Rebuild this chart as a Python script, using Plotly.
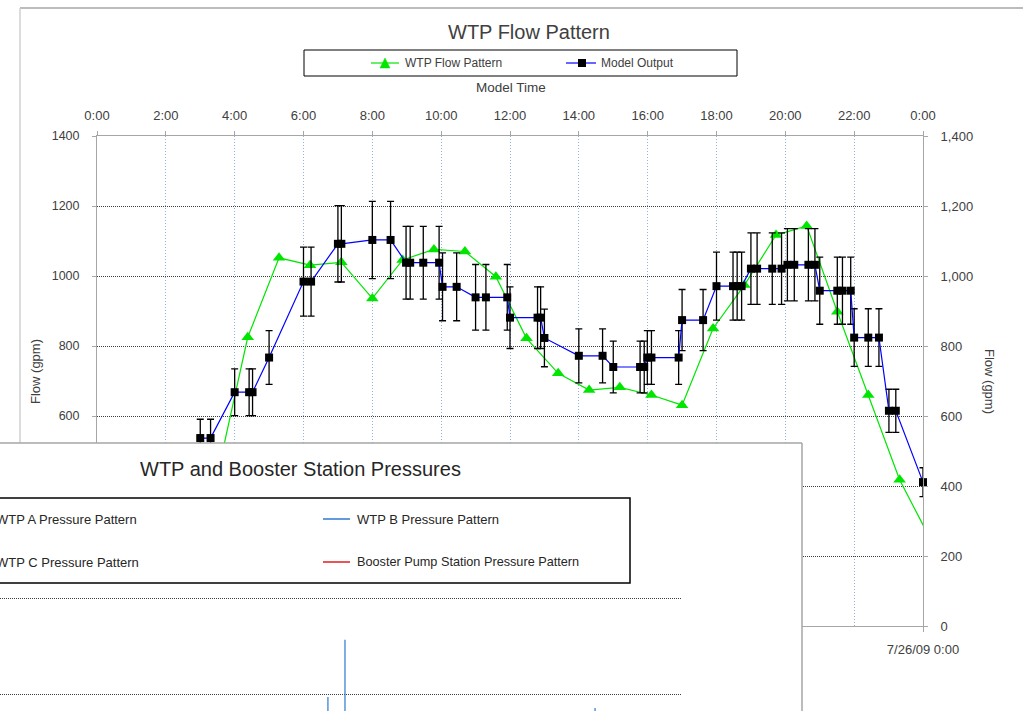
import plotly.graph_objects as go

W, H = 1023, 711

# ---- WTP flow chart data (time in hours after midnight, flow in gpm) ----
model_time_hr = [3.0, 3.3, 4.0, 4.42, 4.52, 5.0, 6.0, 6.22, 7.0, 7.1, 8.0, 8.53,
                 8.98, 9.1, 9.48, 9.94, 10.04, 10.45, 11.0, 11.3, 11.92, 12.0,
                 12.8, 12.89, 13.0, 14.0, 14.69, 15.0, 15.78, 15.9, 15.99, 16.11,
                 16.9, 17.0, 17.61, 18.0, 18.48, 18.6, 18.73, 19.0, 19.18, 19.62,
                 19.89, 20.06, 20.26, 20.67, 20.86, 21.0, 21.51, 21.66, 21.9, 22.0,
                 22.41, 22.72, 23.01, 23.21, 24.0]
model_flow_gpm = [537, 537, 668, 668, 668, 767, 984, 984, 1092, 1092, 1103, 1103,
                  1038, 1038, 1038, 1038, 969, 969, 939, 939, 939, 881,
                  881, 881, 823, 772, 772, 740, 740, 740, 767, 767,
                  767, 874, 874, 971, 971, 971, 971, 1021, 1021, 1021,
                  1021, 1032, 1032, 1032, 1032, 958, 958, 958, 958, 824,
                  824, 824, 615, 615, 411]
model_error_pct = 10

pattern_time_hr = [3.48, 4.38, 5.29, 6.19, 7.1, 8.0, 8.88, 9.79, 10.69, 11.59,
                   12.48, 13.4, 14.3, 15.19, 16.11, 17.0, 17.9, 18.81, 19.73,
                   20.62, 21.51, 22.41, 23.32, 24.22]
pattern_flow_gpm = [424, 825, 1052, 1031, 1039, 936, 1046, 1076, 1070, 998,
                    822, 722, 674, 682, 660, 631, 850, 974, 1117,
                    1143, 898, 660, 418, 247]

hour_ticks = list(range(0, 25, 2))
hour_tick_labels = [f"{h % 24}:00" for h in hour_ticks]
date_ticks = [0, 24]
date_tick_labels = ["", "7/26/09 0:00"]
flow_ticks = list(range(0, 1401, 200))
# left-hand labels below 600 sit behind the pressure chart panel
flow_left_labels = ["" if v < 600 else str(v) for v in flow_ticks]

# ---- Pressure chart data ----
pressure_grid_psi = [60, 80]
wtp_b_spike_hr = [11.54, 12.14, 20.94]
wtp_b_spike_psi = [59.4, 71.3, 57.1]
wtp_b_base_psi = 50

FONT = "Liberation Sans, Arial, sans-serif"
TXT = "#404040"
DARK = "#262626"
AXIS_GRAY = "#a6a6a6"
H_GRID = "#3c3c3c"
V_GRID = "#8fb2e2"
GREEN = "#00e600"
BLUE = "#0000ff"
WTP_B_BLUE = "#2e78d2"
BPS_RED = "#e41a1c"


def px(x):
    return x / W


def py(y):
    return 1 - y / H


fig = go.Figure()

fig.add_trace(go.Scatter(
    x=pattern_time_hr, y=pattern_flow_gpm, name="WTP Flow Pattern",
    mode="lines+markers", line=dict(color=GREEN, width=1.2),
    marker=dict(symbol="triangle-up", size=11, color=GREEN),
    xaxis="x", yaxis="y", hoverinfo="skip"))

fig.add_trace(go.Scatter(
    x=model_time_hr, y=model_flow_gpm, name="Model Output",
    mode="lines+markers", line=dict(color=BLUE, width=1.2),
    marker=dict(symbol="square", size=8, color="black"),
    error_y=dict(type="percent", value=model_error_pct, color="black",
                 thickness=1.3, width=3.5),
    cliponaxis=False, xaxis="x", yaxis="y", hoverinfo="skip"))

# secondary axes (date axis at the bottom, comma-formatted flow on the right)
fig.add_trace(go.Scatter(x=[None], y=[None], xaxis="x2", yaxis="y2",
                         showlegend=False, hoverinfo="skip"))

# pressure chart panel and plot area
fig.add_trace(go.Scatter(x=[None], y=[None], xaxis="x3", yaxis="y3",
                         showlegend=False, hoverinfo="skip"))

spike_x, spike_y = [], []
for t, p in zip(wtp_b_spike_hr, wtp_b_spike_psi):
    spike_x += [t, t, None]
    spike_y += [wtp_b_base_psi, p, None]
fig.add_trace(go.Scatter(
    x=spike_x, y=spike_y, name="WTP B Pressure Pattern", mode="lines",
    line=dict(color=WTP_B_BLUE, width=1.2), xaxis="x4", yaxis="y4",
    hoverinfo="skip"))

plot_x = [px(97), px(923)]
plot_y = [py(626), py(136)]

fig.update_layout(
    width=W, height=H,
    margin=dict(l=0, r=0, t=0, b=0, pad=0, autoexpand=False),
    paper_bgcolor="white", plot_bgcolor="white", showlegend=False,
    font=dict(family=FONT, size=13, color=TXT),
    xaxis=dict(domain=plot_x, range=[0, 24], side="top", anchor="y",
               tickmode="array", tickvals=hour_ticks, ticktext=hour_tick_labels,
               showgrid=True, gridcolor=V_GRID, griddash="1px,2px", gridwidth=1,
               showline=True, linecolor=AXIS_GRAY, linewidth=1,
               ticks="outside", ticklen=4, tickcolor=AXIS_GRAY,
               ticklabelstandoff=6, zeroline=False, automargin=False,
               tickfont=dict(family=FONT, size=13, color=TXT)),
    yaxis=dict(domain=plot_y, range=[0, 1400], anchor="x",
               tickmode="array", tickvals=flow_ticks, ticktext=flow_left_labels,
               showgrid=True, gridcolor=H_GRID, griddash="1px,1px", gridwidth=1,
               showline=True, linecolor=AXIS_GRAY, linewidth=1,
               ticks="outside", ticklen=4, tickcolor=AXIS_GRAY,
               ticklabelstandoff=10, zeroline=False, automargin=False,
               tickfont=dict(family=FONT, size=12.5, color=TXT)),
    xaxis2=dict(overlaying="x", side="bottom", anchor="y2", range=[0, 24],
                tickmode="array", tickvals=date_ticks, ticktext=date_tick_labels,
                showgrid=False, showline=True, linecolor=AXIS_GRAY,
                ticks="outside", ticklen=5, tickcolor=AXIS_GRAY,
                ticklabelstandoff=6, zeroline=False, automargin=False,
                tickfont=dict(family=FONT, size=13, color=TXT)),
    yaxis2=dict(overlaying="y", side="right", anchor="x2", range=[0, 1400],
                tickmode="array", tickvals=flow_ticks, separatethousands=True,
                tickformat=",d",
                showgrid=False, showline=True, linecolor=AXIS_GRAY,
                ticks="outside", ticklen=4, tickcolor=AXIS_GRAY,
                ticklabelstandoff=10, zeroline=False, automargin=False,
                tickfont=dict(family=FONT, size=13, color=TXT)),
    xaxis3=dict(domain=[0, px(802)], range=[0, 1], anchor="y3", visible=False),
    yaxis3=dict(domain=[0, py(443)], range=[0, 1], anchor="x3", visible=False),
    xaxis4=dict(domain=[0, px(682)], range=[0, 24], anchor="y4",
                showgrid=False, showline=False, showticklabels=False,
                ticks="", zeroline=False),
    yaxis4=dict(domain=[0, py(590)], range=[56.46, 81.67], anchor="x4",
                tickmode="array", tickvals=pressure_grid_psi,
                showgrid=True, gridcolor=H_GRID, griddash="1px,1px", gridwidth=1,
                showline=False, showticklabels=False, ticks="", zeroline=False),
)

shapes = [
    # outer frame of the flow chart
    dict(type="line", xref="paper", yref="paper", x0=px(20), x1=1.0,
         y0=py(8), y1=py(8), line=dict(color=AXIS_GRAY, width=1.5), layer="below"),
    dict(type="line", xref="paper", yref="paper", x0=px(20), x1=px(20),
         y0=py(8), y1=0, line=dict(color="#d0d0d0", width=1.5), layer="below"),
    # flow chart legend box
    dict(type="rect", xref="paper", yref="paper", x0=px(304), x1=px(737),
         y0=py(76), y1=py(50), line=dict(color="black", width=1), layer="above"),
    dict(type="line", xref="paper", yref="paper", x0=px(371), x1=px(399),
         y0=py(63), y1=py(63), line=dict(color=GREEN, width=1.2), layer="above"),
    dict(type="path", xref="paper", yref="paper",
         path=f"M {px(380)} {py(68)} L {px(390)} {py(68)} L {px(385)} {py(58)} Z",
         fillcolor=GREEN, line=dict(color=GREEN, width=0.5), layer="above"),
    dict(type="line", xref="paper", yref="paper", x0=px(566), x1=px(596),
         y0=py(63), y1=py(63), line=dict(color=BLUE, width=1.2), layer="above"),
    dict(type="rect", xref="paper", yref="paper", x0=px(578), x1=px(586),
         y0=py(67), y1=py(59), fillcolor="black", line=dict(width=0),
         layer="above"),
    # pressure chart panel border
    dict(type="line", xref="paper", yref="paper", x0=0, x1=px(802),
         y0=py(443), y1=py(443), line=dict(color=AXIS_GRAY, width=1.5),
         layer="above"),
    dict(type="line", xref="paper", yref="paper", x0=px(802), x1=px(802),
         y0=py(443), y1=0, line=dict(color=AXIS_GRAY, width=1.5), layer="above"),
    # pressure chart legend box
    dict(type="rect", xref="paper", yref="paper", x0=px(-10), x1=px(630),
         y0=py(583), y1=py(498), line=dict(color="black", width=1.5),
         layer="above"),
    dict(type="line", xref="paper", yref="paper", x0=px(323), x1=px(350),
         y0=py(519), y1=py(519), line=dict(color=WTP_B_BLUE, width=1.5),
         layer="above"),
    dict(type="line", xref="paper", yref="paper", x0=px(323), x1=px(350),
         y0=py(562), y1=py(562), line=dict(color=BPS_RED, width=1.5),
         layer="above"),
]
fig.update_layout(shapes=shapes)


def label(text, x, y, size, xanchor="center", angle=0, color=TXT):
    return dict(text=text, xref="paper", yref="paper", x=px(x), y=py(y),
                xanchor=xanchor, yanchor="middle", showarrow=False,
                textangle=angle, font=dict(family=FONT, size=size, color=color))


annotations = [
    label("WTP Flow Pattern", 529, 32, 20),
    label("WTP Flow Pattern", 403, 63, 12, xanchor="left"),
    label("Model Output", 599, 63, 12, xanchor="left"),
    label("Model Time", 511, 87, 13.5),
    label("Flow (gpm)", 35, 372, 13, angle=-90),
    label("Flow (gpm)", 990, 381, 13, angle=90),
    label("WTP and Booster Station Pressures", 300, 469, 20, color=DARK),
    label("WTP A Pressure Pattern", -6, 519, 13, xanchor="left", color=DARK),
    label("WTP C Pressure Pattern", -6, 562, 13, xanchor="left", color=DARK),
    label("WTP B Pressure Pattern", 355, 519, 13, xanchor="left", color=DARK),
    label("Booster Pump Station Pressure Pattern", 355, 562, 12.7,
          xanchor="left", color=DARK),
]
fig.update_layout(annotations=annotations)

fig.write_html("out.html")
